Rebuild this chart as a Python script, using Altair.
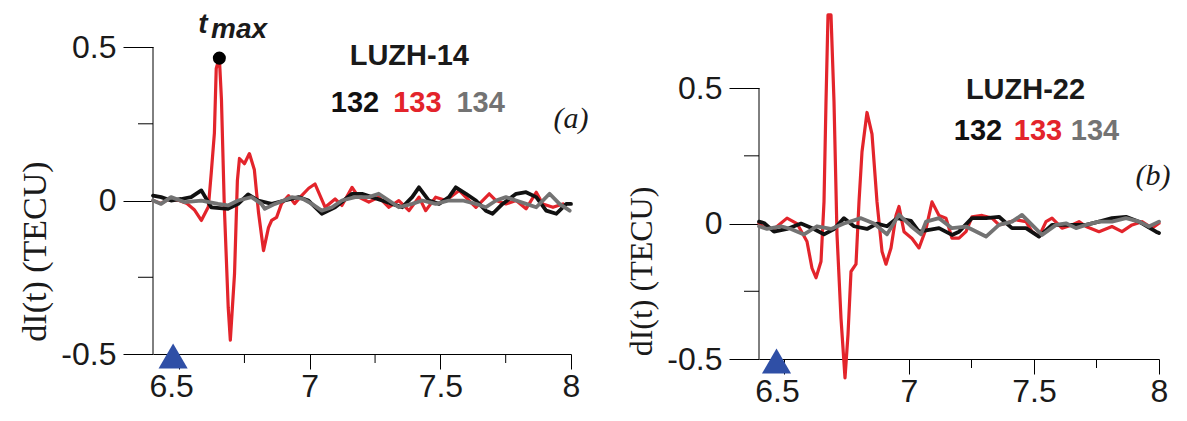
import altair as alt
import pandas as pd

# ---------------- axes / ticks ----------------
X_DOMAIN = [6.4, 8.0]
X_LABELS = [6.5, 7.0, 7.5, 8.0]
X_MINOR = [6.75, 7.25, 7.75]
Y_LABELS = [-0.5, 0.0, 0.5]
Y_MINOR = [-0.25, 0.25]
Y_AXIS_SPAN = [-0.5, 0.5]

# ---------------- panel (a) LUZH-14 ----------------
A_RED_T = [6.40, 6.43, 6.46, 6.50, 6.53, 6.558, 6.585, 6.612, 6.623, 6.635, 6.642, 6.654,
           6.662, 6.673, 6.688, 6.696, 6.712, 6.723, 6.731, 6.75, 6.769, 6.788, 6.804, 6.823,
           6.842, 6.854, 6.873, 6.892, 6.919, 6.942, 6.969, 6.996, 7.020, 7.059, 7.097, 7.123,
           7.162, 7.187, 7.226, 7.264, 7.303, 7.341, 7.380, 7.418, 7.444, 7.482, 7.521, 7.572,
           7.610, 7.636, 7.687, 7.713, 7.751, 7.790, 7.828, 7.867, 7.892, 7.931, 7.969]
A_RED_V = [0.00, -0.01, 0.005, 0.00, -0.01, -0.03, -0.065, -0.02, 0.09, 0.22, 0.43, 0.465,
           0.33, -0.02, -0.35, -0.455, -0.24, 0.065, 0.137, 0.12, 0.153, 0.10, -0.04, -0.163,
           -0.088, -0.065, -0.055, -0.01, 0.016, -0.01, 0.016, 0.04, 0.054, -0.022, 0.005, -0.016,
           0.043, 0.011, -0.005, 0.011, -0.022, 0.00, -0.033, 0.011, -0.033, 0.011, 0.00, 0.033,
           0.00, -0.022, 0.022, 0.00, -0.011, 0.00, -0.027, 0.027, -0.011, -0.022, -0.011]

A_BLK_T = [6.40, 6.431, 6.469, 6.508, 6.546, 6.585, 6.623, 6.687, 6.726, 6.764, 6.803, 6.854,
           6.904, 6.957, 6.995, 7.046, 7.097, 7.162, 7.200, 7.238, 7.277, 7.315, 7.354, 7.392,
           7.418, 7.456, 7.495, 7.533, 7.559, 7.598, 7.636, 7.674, 7.700, 7.738, 7.790, 7.828,
           7.867, 7.905, 7.944, 7.982, 8.0]
A_BLK_V = [0.016, 0.011, 0.0, 0.005, 0.011, 0.033, -0.022, -0.027, -0.011, 0.02, 0.0, -0.011,
           0.0, 0.011, 0.0, -0.043, -0.022, 0.022, 0.022, 0.011, 0.0, -0.011, -0.022, 0.011,
           0.043, 0.0, -0.011, 0.011, 0.043, 0.022, 0.0, -0.033, -0.043, -0.011, 0.022, 0.027,
           0.011, -0.033, -0.043, -0.011, -0.011]

A_GRY_T = [6.40, 6.431, 6.469, 6.520, 6.585, 6.649, 6.687, 6.726, 6.777, 6.815, 6.828, 6.867,
           6.931, 6.975, 7.008, 7.046, 7.085, 7.123, 7.174, 7.226, 7.264, 7.303, 7.341, 7.392,
           7.431, 7.482, 7.533, 7.585, 7.636, 7.674, 7.713, 7.751, 7.790, 7.828, 7.867, 7.918,
           7.956, 7.995]
A_GRY_V = [0.0, -0.011, 0.011, -0.005, 0.0, -0.011, -0.016, 0.0, 0.011, -0.011, -0.027, -0.011,
           0.011, 0.005, -0.011, -0.033, -0.022, 0.0, 0.011, 0.011, 0.022, 0.0, -0.022, -0.011,
           0.0, -0.011, 0.0, 0.0, -0.011, -0.022, 0.0, 0.011, 0.0, -0.011, -0.022, 0.022,
           -0.011, -0.033]

# ---------------- panel (b) LUZH-22 ----------------
B_RED_T = [6.40, 6.42, 6.46, 6.512, 6.552, 6.592, 6.612, 6.628, 6.648, 6.66, 6.668, 6.676,
           6.688, 6.70, 6.712, 6.728, 6.744, 6.756, 6.768, 6.788, 6.80, 6.812, 6.832, 6.852,
           6.872, 6.892, 6.908, 6.928, 6.948, 6.96, 6.98, 7.012, 7.04, 7.068, 7.092, 7.12,
           7.148, 7.172, 7.20, 7.228, 7.252, 7.292, 7.332, 7.36, 7.388, 7.428, 7.468, 7.492,
           7.52, 7.548, 7.572, 7.612, 7.652, 7.68, 7.708, 7.76, 7.812, 7.852, 7.892, 7.932,
           7.972, 8.0]
B_RED_V = [0.0, -0.015, -0.02, 0.02, 0.0, -0.066, -0.165, -0.20, -0.14, 0.08, 0.45, 0.77,
           0.77, 0.45, -0.04, -0.35, -0.57, -0.41, -0.177, -0.15, 0.08, 0.265, 0.41, 0.33,
           0.08, -0.103, -0.15, -0.09, 0.03, 0.063, -0.03, -0.055, -0.09, -0.02, 0.08, 0.03,
           0.02, -0.054, -0.054, -0.03, 0.025, 0.03, 0.02, -0.005, 0.001, 0.014, 0.007, -0.03,
           -0.048, 0.007, 0.02, -0.017, -0.005, 0.007, -0.011, -0.03, -0.011, -0.03, -0.005, 0.007,
           -0.017, 0.001]

B_BLK_T = [6.40, 6.42, 6.46, 6.512, 6.568, 6.62, 6.66, 6.70, 6.74, 6.78, 6.832, 6.872,
           6.912, 6.952, 7.008, 7.04, 7.12, 7.172, 7.20, 7.252, 7.308, 7.36, 7.412, 7.468,
           7.52, 7.572, 7.628, 7.708, 7.76, 7.812, 7.868, 7.92, 7.988, 8.0]
B_BLK_V = [0.007, 0.002, -0.03, -0.02, 0.0, -0.02, -0.04, -0.02, 0.02, -0.01, -0.02, 0.0,
           -0.01, 0.02, 0.01, -0.03, -0.017, -0.042, -0.03, 0.02, 0.02, 0.025, -0.017, -0.017,
           -0.048, -0.005, -0.005, -0.005, 0.007, 0.02, 0.025, 0.007, -0.03, -0.035]

B_GRY_T = [6.40, 6.432, 6.488, 6.528, 6.58, 6.632, 6.688, 6.74, 6.808, 6.86, 6.912, 6.96,
           7.008, 7.048, 7.068, 7.12, 7.172, 7.228, 7.308, 7.36, 7.412, 7.452, 7.492, 7.532,
           7.588, 7.628, 7.668, 7.708, 7.76, 7.812, 7.868, 7.92, 7.96, 8.0]
B_GRY_V = [-0.01, -0.02, -0.01, -0.02, -0.04, -0.01, -0.02, 0.0, 0.02, 0.0, -0.04, 0.033,
           -0.01, -0.04, 0.007, 0.02, -0.017, -0.011, -0.048, -0.005, 0.007, 0.032, -0.005, -0.042,
           -0.005, 0.001, -0.017, -0.005, 0.007, 0.007, 0.02, 0.007, -0.011, 0.007]

# ---------------- annotations ----------------
PRN_LABELS = ["132", "133", "134"]
A_STATION = "LUZH-14"
B_STATION = "LUZH-22"
A_TAG = "(a)"
B_TAG = "(b)"
A_STATION_POS = (7.381, 0.44)
B_STATION_POS = (7.466, 0.46)
A_PRN_T = [7.173, 7.412, 7.654]
A_PRN_V = 0.29
B_PRN_T = [7.276, 7.516, 7.744]
B_PRN_V = 0.31
A_TAG_POS = (8.0, 0.235)
B_TAG_POS = (7.976, 0.144)
TMAX_POINT = (6.654, 0.464)
TMAX_T_POS = (6.573, 0.547)
TMAX_SUB_POS = (6.622, 0.528)
TRI_A = 6.477
TRI_B = 6.47
Y_TITLE = "dI(t) (TECU)"

RED = "#e3242b"
BLACK = "#111111"
GRAY = "#737373"
BLUE = "#2f4fa6"
TEXT = "#1a1a1a"
SANS = "Liberation Sans"
SERIF = "Liberation Serif"


def panel(red, black, gray, y_dom, w, h, title_y, station, station_pos,
          prn_t, prn_v, tag, tag_pos, tri_t, with_tmax, label_dx, title_size):
    xs = alt.Scale(domain=X_DOMAIN, nice=False, zero=False)
    ys = alt.Scale(domain=y_dom, nice=False, zero=False)
    x_axis = alt.Axis(values=X_LABELS, tickSize=15, tickColor="black", domainColor="black",
                      domainWidth=1, tickWidth=1, labelFont=SANS, labelFontSize=32,
                      labelColor=TEXT, labelPadding=2, labelExpr="'' + datum.value",
                      labelFlush=False, labelOverlap=False, title=None, grid=False,
                      labelOffset={"condition": {"test": "datum.value == 6.5", "value": label_dx},
                                   "value": 0})
    y_axis = alt.Axis(values=Y_LABELS, tickSize=30, tickColor="black", tickWidth=1, domain=False,
                      labelFont=SANS, labelFontSize=32, labelColor=TEXT, labelPadding=7,
                      labelExpr="'' + datum.value", labelOverlap=False, grid=False,
                      title=Y_TITLE, titleFont=SERIF, titleFontSize=title_size,
                      titleFontWeight="normal", titleColor=TEXT, titlePadding=8, titleY=title_y)

    def X():
        return alt.X("t:Q", scale=xs, axis=x_axis)

    def Y():
        return alt.Y("v:Q", scale=ys, axis=y_axis)

    axis_line = alt.Chart(pd.DataFrame({"t": [X_DOMAIN[0]], "v": [Y_AXIS_SPAN[0]],
                                        "v2": [Y_AXIS_SPAN[1]]})).mark_rule(
        color="black", strokeWidth=1).encode(x=X(), y=Y(), y2="v2:Q")

    y_minor = alt.Chart(pd.DataFrame({"t": [X_DOMAIN[0]] * len(Y_MINOR), "v": Y_MINOR})).mark_tick(
        orient="horizontal", size=15, thickness=1, color="black", xOffset=-7.5, opacity=1
    ).encode(x=X(), y=Y())
    x_minor = alt.Chart(pd.DataFrame({"t": X_MINOR, "v": [Y_AXIS_SPAN[0]] * len(X_MINOR)})).mark_tick(
        orient="vertical", size=9, thickness=1, color="black", yOffset=4.5, opacity=1
    ).encode(x=X(), y=Y())

    def line(t, v, color, width):
        return alt.Chart(pd.DataFrame({"t": t, "v": v})).mark_line(
            color=color, strokeWidth=width, strokeJoin="round", strokeCap="round"
        ).encode(x=X(), y=Y())

    lines = [line(red[0], red[1], RED, 3.2), line(black[0], black[1], BLACK, 3.8),
             line(gray[0], gray[1], GRAY, 3.8)]

    tri = alt.Chart(pd.DataFrame({"t": [tri_t], "v": [Y_AXIS_SPAN[0]]})).mark_point(
        shape="triangle-up", filled=True, size=850, color=BLUE, opacity=1, yOffset=2
    ).encode(x=X(), y=Y())

    st = alt.Chart(pd.DataFrame({"t": [station_pos[0]], "v": [station_pos[1]], "s": [station]})).mark_text(
        font=SANS, fontSize=29, fontWeight="bold", color=TEXT, align="center", baseline="alphabetic"
    ).encode(x=X(), y=Y(), text="s:N")

    prn = alt.Chart(pd.DataFrame({"t": prn_t, "v": [prn_v] * 3, "s": PRN_LABELS,
                                  "c": [BLACK, RED, GRAY]})).mark_text(
        font=SANS, fontSize=29, fontWeight="bold", align="center", baseline="alphabetic"
    ).encode(x=X(), y=Y(), text="s:N", color=alt.Color("c:N", scale=None))

    tg = alt.Chart(pd.DataFrame({"t": [tag_pos[0]], "v": [tag_pos[1]], "s": [tag]})).mark_text(
        font=SERIF, fontSize=30, fontStyle="italic", color=TEXT, align="center", baseline="alphabetic"
    ).encode(x=X(), y=Y(), text="s:N")

    layers = [axis_line, y_minor, x_minor] + lines + [tri, st, prn, tg]

    if with_tmax:
        dot = alt.Chart(pd.DataFrame({"t": [TMAX_POINT[0]], "v": [TMAX_POINT[1]]})).mark_circle(
            size=170, color="black", opacity=1).encode(x=X(), y=Y())
        t1 = alt.Chart(pd.DataFrame({"t": [TMAX_T_POS[0]], "v": [TMAX_T_POS[1]], "s": ["t"]})).mark_text(
            font=SANS, fontSize=28, fontWeight="bold", fontStyle="italic", color=TEXT,
            align="left", baseline="alphabetic").encode(x=X(), y=Y(), text="s:N")
        t2 = alt.Chart(pd.DataFrame({"t": [TMAX_SUB_POS[0]], "v": [TMAX_SUB_POS[1]], "s": ["max"]})).mark_text(
            font=SANS, fontSize=28, fontWeight="bold", fontStyle="italic", color=TEXT,
            align="left", baseline="alphabetic").encode(x=X(), y=Y(), text="s:N")
        layers += [dot, t1, t2]

    return alt.layer(*layers).properties(width=w, height=h)


left = panel((A_RED_T, A_RED_V), (A_BLK_T, A_BLK_V), (A_GRY_T, A_GRY_V),
             [-0.5, 0.624], 418, 345, 242, A_STATION, A_STATION_POS,
             A_PRN_T, A_PRN_V, A_TAG, A_TAG_POS, TRI_A, True, -8, 34)
right = panel((B_RED_T, B_RED_V), (B_BLK_T, B_BLK_V), (B_GRY_T, B_GRY_V),
              [-0.5, 0.792], 400, 350, 262, B_STATION, B_STATION_POS,
              B_PRN_T, B_PRN_V, B_TAG, B_TAG_POS, TRI_B, False, -7, 32)

chart = alt.hconcat(left, right, spacing=36).properties(
    padding={"left": 10, "top": 0, "right": 0, "bottom": 0},
    background="white",
).configure_view(stroke="transparent")

chart.save("out.html", embed_options={"renderer": "svg", "actions": False})
